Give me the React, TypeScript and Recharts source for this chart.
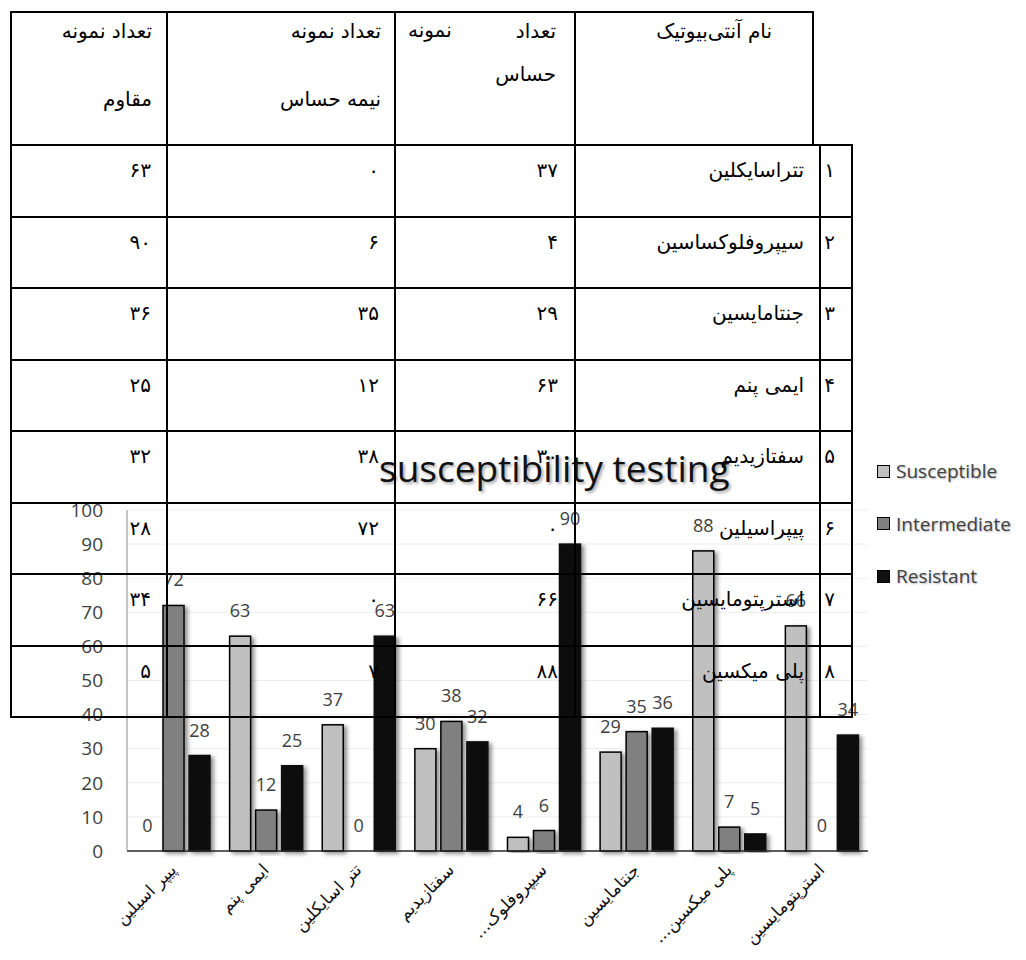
import { BarChart, Bar, XAxis, YAxis, CartesianGrid, LabelList } from "recharts";

// ─── Chart data (bar order along the x axis) ────────────────────────────────
const drugs = [
  "پیپر اسیلین",
  "ایمی پنم",
  "تتر اسایکلین",
  "سفتازیدیم",
  "سیپروفلوک...",
  "جنتامایسین",
  "پلی میکسین...",
  "استرپتومایسین",
];
const susceptible = [0, 63, 37, 30, 4, 29, 88, 66];
const intermediate = [72, 12, 0, 38, 6, 35, 7, 0];
const resistant = [28, 25, 63, 32, 90, 36, 5, 34];
const yTicks = [0, 10, 20, 30, 40, 50, 60, 70, 80, 90, 100];

// ─── Table data (row order of the printed table) ────────────────────────────
const tableNames = [
  "تتراسایکلین",
  "سیپروفلوکساسین",
  "جنتامایسین",
  "ایمی پنم",
  "سفتازیدیم",
  "پیپراسیلین",
  "استرپتومایسین",
  "پلی میکسین",
];
const tableSusceptible = [37, 4, 29, 63, 30, 0, 66, 88];
const tableIntermediate = [0, 6, 35, 12, 38, 72, 0, 7];
const tableResistant = [63, 90, 36, 25, 32, 28, 34, 5];

const series = [
  { key: "susceptible", name: "Susceptible", color: "#c0c0c0", stroke: "#000" },
  { key: "intermediate", name: "Intermediate", color: "#808080", stroke: "#000" },
  { key: "resistant", name: "Resistant", color: "#111111", stroke: "#111111" },
];

const chartData = drugs.map((name, i) => ({
  name,
  susceptible: susceptible[i],
  intermediate: intermediate[i],
  resistant: resistant[i],
}));

const toPersian = (n: number) => String(n).replace(/\d/g, (d) => "۰۱۲۳۴۵۶۷۸۹"[+d]);

const LATIN = "'Open Sans', 'Liberation Sans', sans-serif";
const FA = "'DejaVu Sans', sans-serif";

function ShadowBar(props: any) {
  const { x, y, width, height, fill, stroke } = props;
  if (!height) return null;
  return (
    <rect
      x={x}
      y={y}
      width={width}
      height={height}
      fill={fill}
      stroke={stroke}
      strokeWidth={1.5}
      filter="url(#barShadow)"
    />
  );
}

// RLM keeps a trailing "..." on the left (end) of the Persian label
function AngledTick({ x, y, payload }: any) {
  return (
    <g transform={`translate(${x + 4},${y + 12})`}>
      <text
        x={0}
        y={0}
        textAnchor="end"
        transform="rotate(-45)"
        fontSize={17}
        fontFamily={FA}
        fill="#111"
      >
        {payload.value + "\u200F"}
      </text>
    </g>
  );
}

// ─── Table layout ───────────────────────────────────────────────────────────
const COLS = [11, 167, 395, 575, 820, 852];
const HEADER_TOP = 12;
const HEADER_BOTTOM = 145;
const HEADER_RIGHT = 813;
const ROW_H = 71.5;

const cellBase: React.CSSProperties = {
  position: "absolute",
  boxSizing: "border-box",
  border: "2px solid #000",
  fontFamily: FA,
  fontSize: 20,
  color: "#000",
  direction: "rtl",
  textAlign: "right",
  lineHeight: "22px",
  whiteSpace: "nowrap",
};

function Cell({ left, right, top, bottom, children, style }: any) {
  return (
    <div
      style={{
        ...cellBase,
        left: left - 1,
        top: top - 1,
        width: right - left + 2,
        height: bottom - top + 2,
        ...style,
      }}
    >
      {children}
    </div>
  );
}

function DataTable() {
  const head = { top: HEADER_TOP, bottom: HEADER_BOTTOM };
  return (
    <div style={{ position: "absolute", left: 0, top: 0, width: 1026, height: 960, pointerEvents: "none" }}>
      {/* header */}
      <Cell left={COLS[0]} right={COLS[1]} {...head}>
        <div style={{ position: "absolute", right: 14, top: 7 }}>تعداد نمونه</div>
        <div style={{ position: "absolute", right: 14, top: 75 }}>مقاوم</div>
      </Cell>
      <Cell left={COLS[1]} right={COLS[2]} {...head}>
        <div style={{ position: "absolute", right: 13, top: 7 }}>تعداد نمونه</div>
        <div style={{ position: "absolute", right: 13, top: 75 }}>نیمه حساس</div>
      </Cell>
      <Cell left={COLS[2]} right={COLS[3]} {...head}>
        <div style={{ position: "absolute", right: 18, top: 7 }}>تعداد</div>
        <div style={{ position: "absolute", left: 12, top: 6 }}>نمونه</div>
        <div style={{ position: "absolute", right: 18, top: 50 }}>حساس</div>
      </Cell>
      <Cell left={COLS[3]} right={HEADER_RIGHT} {...head}>
        <div style={{ position: "absolute", right: 40, top: 7 }}>نام آنتی‌بیوتیک</div>
      </Cell>

      {/* body */}
      {tableNames.map((name, i) => {
        const top = HEADER_BOTTOM + i * ROW_H;
        const bottom = top + ROW_H;
        const pad = { paddingTop: 13, paddingRight: 15 };
        return (
          <div key={name}>
            <Cell left={COLS[0]} right={COLS[1]} top={top} bottom={bottom} style={pad}>
              {toPersian(tableResistant[i])}
            </Cell>
            <Cell left={COLS[1]} right={COLS[2]} top={top} bottom={bottom} style={pad}>
              {toPersian(tableIntermediate[i])}
            </Cell>
            <Cell left={COLS[2]} right={COLS[3]} top={top} bottom={bottom} style={{ ...pad, paddingRight: 16 }}>
              {toPersian(tableSusceptible[i])}
            </Cell>
            <Cell left={COLS[3]} right={COLS[4]} top={top} bottom={bottom} style={pad}>
              {name}
            </Cell>
            <Cell left={COLS[4]} right={COLS[5]} top={top} bottom={bottom} style={{ ...pad, paddingRight: 16 }}>
              {toPersian(i + 1)}
            </Cell>
          </div>
        );
      })}
    </div>
  );
}

function Legend() {
  return (
    <div style={{ position: "absolute", left: 877, top: 458 }}>
      {series.map((s, i) => (
        <div
          key={s.key}
          style={{
            position: "absolute",
            top: i * 52.5,
            left: 0,
            display: "flex",
            alignItems: "center",
            whiteSpace: "nowrap",
            fontFamily: LATIN,
            fontSize: 19,
            color: "#404040",
            textShadow: "1px 1px 2px rgba(0,0,0,0.3)",
          }}
        >
          <span
            style={{
              display: "inline-block",
              width: 11,
              height: 11,
              background: s.color,
              border: "1.5px solid #000",
              marginRight: 6,
            }}
          />
          {s.name}
        </div>
      ))}
    </div>
  );
}

export default function App() {
  return (
    <div style={{ position: "absolute", left: 0, top: 0, width: 1026, height: 960, background: "#fff", overflow: "hidden" }}>
      <div style={{ position: "absolute", left: 0, top: 0 }}>
        <BarChart
          width={1026}
          height={960}
          data={chartData}
          margin={{ top: 510, right: 158, bottom: 9, left: 67 }}
          barSize={21}
          barGap={5}
        >
          <defs>
            <filter id="barShadow" x="-30%" y="-5%" width="170%" height="115%">
              <feDropShadow dx="3" dy="2" stdDeviation="2.2" floodColor="#000" floodOpacity="0.45" />
            </filter>
          </defs>
          <CartesianGrid vertical={false} stroke="#ededed" />
          <XAxis
            dataKey="name"
            height={100}
            interval={0}
            tick={<AngledTick />}
            tickLine={false}
            axisLine={{ stroke: "#2a2a2a", strokeWidth: 1.5 }}
          />
          <YAxis
            width={60}
            domain={[0, 100]}
            ticks={yTicks}
            tickLine={false}
            tickSize={0}
            tickMargin={24}
            axisLine={{ stroke: "#8a8a8a" }}
            tick={{ fontSize: 19, fill: "#404040", fontFamily: LATIN }}
          />
          {series.map((s) => (
            <Bar
              key={s.key}
              dataKey={s.key}
              name={s.name}
              fill={s.color}
              stroke={s.stroke}
              shape={<ShadowBar />}
              isAnimationActive={false}
            >
              <LabelList
                dataKey={s.key}
                position="top"
                offset={19}
                fill="#404040"
                fontSize={18}
                fontFamily={LATIN}
              />
            </Bar>
          ))}
        </BarChart>
      </div>

      <div
        style={{
          position: "absolute",
          left: 379,
          top: 449,
          fontFamily: LATIN,
          fontSize: 37,
          lineHeight: "38px",
          color: "#111",
          whiteSpace: "nowrap",
          textShadow: "2px 2px 3px rgba(0,0,0,0.35)",
        }}
      >
        susceptibility testing
      </div>

      <Legend />
      <DataTable />
    </div>
  );
}
